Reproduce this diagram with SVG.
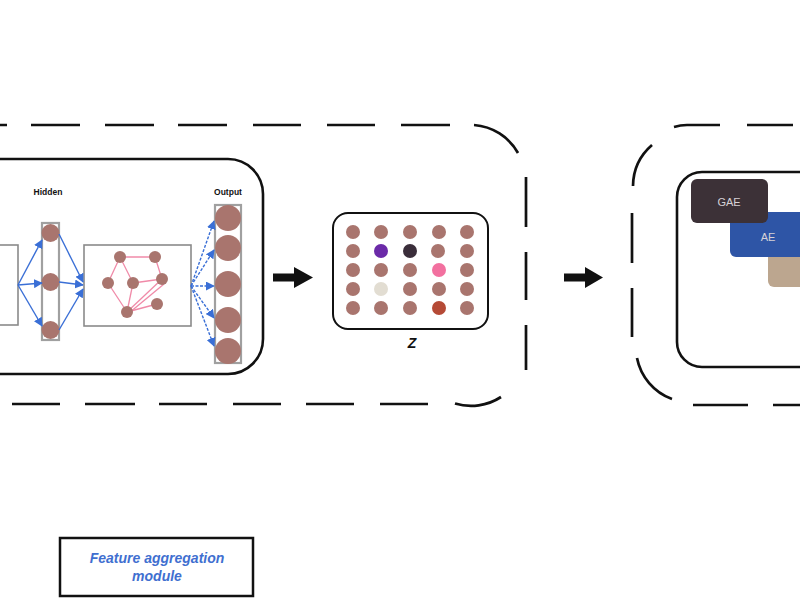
<svg xmlns="http://www.w3.org/2000/svg" width="800" height="600" viewBox="0 0 800 600">
<defs>
  <marker id="bh" viewBox="0 0 10 10" refX="9" refY="5" markerWidth="9" markerHeight="9" orient="auto" markerUnits="userSpaceOnUse">
    <path d="M0,0 L10,5 L0,10 z" fill="#3a6fd6"/>
  </marker>
  <style>
    .dash{fill:none;stroke:#111;stroke-width:2.7;stroke-linecap:butt}
    .solid{fill:none;stroke:#111;stroke-width:2.6}
    .gbox{fill:#fff;stroke:#8a8a8a;stroke-width:1.6}
    .col{fill:#fff;stroke:#a0a0a0;stroke-width:2.2}
    .nd{fill:#a9756e}
    .bl{stroke:#3a6fd6;stroke-width:1.4;fill:none}
    .bld{stroke:#3a6fd6;stroke-width:1.4;fill:none;stroke-dasharray:3 1.5}
    .pk{stroke:#f08aa8;stroke-width:1.3;fill:none}
    .lbl{font-family:"Liberation Sans",Arial,sans-serif;font-weight:bold;font-size:8.5px;fill:#111;text-anchor:middle}
    .tag{font-family:"Liberation Sans",Arial,sans-serif;font-size:11px;fill:#d6d2d6;text-anchor:middle}
    .big{fill:#111}
  </style>
</defs>

<!-- dashed containers -->
<g id="left-container">
  <path class="dash" d="M0,125 H7 M31,125 H80 M105,125 H154 M178,125 H227 M253,125 H301 M327,125 H375 M401,125 H450 M474,125 A55,55 0 0 1 518,153 M526,177 V227 M526,252 V300 M526,325 V370 M501,397 A55,55 0 0 1 455,403.5 M428,404 H380 M354,404 H306 M281,404 H233 M207,404 H159 M135,404 H85 M60,404 H12"/>
</g>
<g id="right-container">
  <path class="dash" d="M674,127 A55,55 0 0 1 687,125 H720 M747,125 H793 M652,145 A55,55 0 0 0 633,186 M632,213 V263 M632,288 V337 M637,358 A55,55 0 0 0 672,399 M693,405 H748 M773,405 H800"/>
</g>

<!-- left inner module -->
<g id="encoder-module">
  <path class="solid" d="M-10,159 H228 A35,35 0 0 1 263,194 V339 A35,35 0 0 1 228,374 H-10"/>
</g>

<g id="input-box">
  <rect class="gbox" x="-10" y="245" width="28" height="80"/>
</g>

<g id="hidden-layer">
  <text class="lbl" x="48" y="195">Hidden</text>
  <rect class="col" x="42" y="223" width="17" height="117"/>
  <circle class="nd" cx="50.5" cy="233" r="9"/>
  <circle class="nd" cx="50.5" cy="282" r="9"/>
  <circle class="nd" cx="50.5" cy="330" r="9"/>
</g>

<g id="graph-box">
  <rect class="gbox" x="84" y="245" width="107" height="81"/>
  <g class="pk">
    <line x1="120" y1="257" x2="155" y2="257"/>
    <line x1="155" y1="257" x2="162" y2="279"/>
    <line x1="120" y1="257" x2="108" y2="283"/>
    <line x1="120" y1="257" x2="133" y2="283"/>
    <line x1="108" y1="283" x2="127" y2="312"/>
    <line x1="133" y1="283" x2="162" y2="279"/>
    <line x1="133" y1="283" x2="127" y2="312"/>
    <line x1="162" y1="279" x2="127" y2="312"/>
    <line x1="164" y1="284" x2="129" y2="313"/>
    <line x1="127" y1="312" x2="157" y2="304"/>
  </g>
  <circle class="nd" cx="120" cy="257" r="6"/>
  <circle class="nd" cx="155" cy="257" r="6"/>
  <circle class="nd" cx="108" cy="283" r="6"/>
  <circle class="nd" cx="133" cy="283" r="6"/>
  <circle class="nd" cx="162" cy="279" r="6"/>
  <circle class="nd" cx="127" cy="312" r="6"/>
  <circle class="nd" cx="157" cy="304" r="6"/>
</g>

<g id="output-layer">
  <text class="lbl" x="228" y="195">Output</text>
  <rect class="col" x="215" y="205" width="26" height="158"/>
  <circle class="nd" cx="228" cy="218" r="13"/>
  <circle class="nd" cx="228" cy="248" r="13"/>
  <circle class="nd" cx="228" cy="284" r="13"/>
  <circle class="nd" cx="228" cy="320" r="13"/>
  <circle class="nd" cx="228" cy="351" r="13"/>
</g>

<g id="z-matrix">
  <rect x="333" y="213" width="155" height="116" rx="15" fill="#fff" stroke="#111" stroke-width="2"/>
  <g class="nd">
    <circle cx="353" cy="232" r="7"/><circle cx="381" cy="232" r="7"/><circle cx="410" cy="232" r="7"/><circle cx="439" cy="232" r="7"/><circle cx="467" cy="232" r="7"/>
    <circle cx="353" cy="251" r="7"/><circle cx="438" cy="251" r="7"/><circle cx="467" cy="251" r="7"/>
    <circle cx="353" cy="270" r="7"/><circle cx="381" cy="270" r="7"/><circle cx="410" cy="270" r="7"/><circle cx="467" cy="270" r="7"/>
    <circle cx="353" cy="289" r="7"/><circle cx="410" cy="289" r="7"/><circle cx="439" cy="289" r="7"/><circle cx="467" cy="289" r="7"/>
    <circle cx="353" cy="308" r="7"/><circle cx="381" cy="308" r="7"/><circle cx="410" cy="308" r="7"/><circle cx="467" cy="308" r="7"/>
  </g>
  <circle cx="381" cy="251" r="7" fill="#6b2aa8"/>
  <circle cx="410" cy="251" r="7" fill="#3a2e3a"/>
  <circle cx="439" cy="270" r="7" fill="#f2709f"/>
  <circle cx="381" cy="289" r="7" fill="#e2ddd2"/>
  <circle cx="439" cy="308" r="7" fill="#b54a36"/>
  <text x="412" y="348" font-family="Liberation Sans, Arial, sans-serif" font-size="14" font-style="italic" font-weight="bold" fill="#111" text-anchor="middle">Z</text>
</g>

<!-- right module -->
<g id="model-module">
  <path class="solid" d="M810,172 H702 A25,25 0 0 0 677,197 V342 A25,25 0 0 0 702,367 H810"/>
</g>
<g id="tan-box">
  <rect x="768" y="250" width="50" height="37" rx="6" fill="#bca68f"/>
</g>
<g id="ae-box">
  <rect x="730" y="212" width="90" height="45" rx="6" fill="#2e55a6"/>
  <text class="tag" x="768" y="241" fill="#e6e6f0">AE</text>
</g>
<g id="gae-box">
  <rect x="691" y="179" width="77" height="44" rx="6" fill="#3c3137"/>
  <text class="tag" x="729" y="206">GAE</text>
</g>

<g id="legend">
  <rect x="60" y="538" width="193" height="58" fill="#fff" stroke="#111" stroke-width="2.5"/>
  <text x="157" y="563" font-family="Liberation Sans, Arial, sans-serif" font-size="14" font-style="italic" font-weight="bold" fill="#3f6fd0" text-anchor="middle">Feature aggregation</text>
  <text x="157" y="581" font-family="Liberation Sans, Arial, sans-serif" font-size="14" font-style="italic" font-weight="bold" fill="#3f6fd0" text-anchor="middle">module</text>
</g>

<!-- connectors -->
<g id="connectors">
  <line class="bl" x1="18" y1="285" x2="42" y2="240" marker-end="url(#bh)"/>
  <line class="bl" x1="18" y1="285" x2="42" y2="283" marker-end="url(#bh)"/>
  <line class="bl" x1="18" y1="285" x2="42" y2="326" marker-end="url(#bh)"/>
  <line class="bl" x1="59" y1="234" x2="83" y2="282" marker-end="url(#bh)"/>
  <line class="bl" x1="59" y1="282" x2="83" y2="285" marker-end="url(#bh)"/>
  <line class="bl" x1="59" y1="330" x2="83" y2="289" marker-end="url(#bh)"/>
  <line class="bld" x1="191" y1="286" x2="214" y2="221" marker-end="url(#bh)"/>
  <line class="bld" x1="191" y1="286" x2="214" y2="250" marker-end="url(#bh)"/>
  <line class="bld" x1="191" y1="286" x2="214" y2="286" marker-end="url(#bh)"/>
  <line class="bld" x1="191" y1="286" x2="214" y2="318" marker-end="url(#bh)"/>
  <line class="bld" x1="191" y1="286" x2="214" y2="346" marker-end="url(#bh)"/>
  <path class="big" d="M273,273.5 H294 V267 L313,277.5 L294,288 V281.5 H273 z"/>
  <path class="big" d="M564,273.5 H585 V267 L603,277.5 L585,288 V281.5 H564 z"/>
</g>
</svg>
